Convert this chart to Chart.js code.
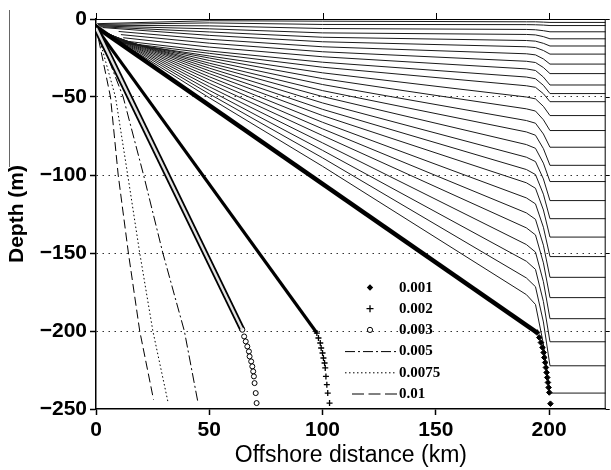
<!DOCTYPE html>
<html lang="en">
<head>
<meta charset="utf-8">
<title>Depth profiles offshore</title>
<script src="https://cdn.jsdelivr.net/npm/chart.js@4.4.1/dist/chart.umd.min.js"></script>
<style>
  html, body { margin: 0; padding: 0; background: #fff; }
  .wrap { position: relative; width: 611px; height: 470px; }
  .edge { position: absolute; left: 9px; top: 10px; width: 1px; height: 157px; background: #666; }
</style>
</head>
<body>
<div class="wrap">
  <canvas id="depthChart" width="611" height="470"></canvas>
  <div class="edge"></div>
</div>
<script>
// ---------------------------
// Values (x = offshore distance in km, y = depth in m)
// ---------------------------

const xTicks = [0, 50, 100, 150, 200];
const yTicks = [0, -50, -100, -150, -200, -250];

const seriesLabels = ["0.001", "0.002", "0.003", "0.005", "0.0075", "0.01"];

// 0.001 : straight run to the shelf break, then the single markers below it
const p001X = [0, 194.7, 195.7, 196.4, 197.1, 197.6, 197.9, 198.3, 198.6, 198.9, 199.2, 199.5, 199.8, 200.1, 200.6];
const p001Y = [-5, -201, -204.2, -207.4, -210.6, -213.8, -217.0, -220.2, -223.4, -226.6, -229.8, -233.0, -236.2, -239.4, -246.6];

// 0.002
const p002X = [0, 97.5, 98.2, 99.0, 99.4, 100.0, 100.4, 100.9, 101.2, 101.5, 101.9, 102.3, 103.1];
const p002Y = [-5.5, -201.3, -204.5, -207.7, -210.9, -214.1, -217.3, -220.5, -223.7, -229.1, -234.4, -239.8, -246.2];

// 0.003
const p003X = [0, 64.6, 65.4, 66.1, 66.8, 67.5, 67.8, 68.5, 69.0, 69.4, 69.7, 70.0, 70.5, 70.9];
const p003Y = [-5.8, -199.2, -203.5, -206.7, -209.9, -213.1, -216.3, -219.5, -222.7, -225.9, -229.1, -233.4, -239.8, -246.2];

// 0.005 / 0.0075 / 0.01 (plain lines)
const p005X = [0, 12, 21, 29.5, 39, 44.9];
const p005Y = [-5, -50, -100, -150, -200, -245];
const p0075X = [0, 8.6, 14, 19.3, 25.1, 31.7];
const p0075Y = [-5, -50, -100, -150, -200, -245];
const p01X = [0, 6.4, 9.8, 14.3, 19.3, 25.4];
const p01Y = [-5, -50, -100, -150, -200, -244];

// thin background lines: a start point, their depth at each column of fanColumnX,
// then flat at their level out to the right edge
const fanColumnX = [50, 100, 190, 194, 197.5, 200.4, 225];
const fanStartX = [0.5, 0.8, 1, 1.5, 2, 3, 10, 11, 12, 12, 11, 10, 9, 8, 7, 6, 5, 4, 3.5, 3, 2.5, 2, 1.5, 1, 0.5, 0.3];
const fanStartY = [-3, -3.5, -4, -4.5, -5, -5.5, -8, -10, -12, -14, -15, -15, -14, -13, -12, -11, -10, -9, -8.5, -8, -7.5, -7, -6.5, -6, -5.5, -5.3];
const fanAt50 = [-1.1, -2.5, -4.4, -6.3, -8.3, -10.5, -13, -15.5, -18, -20.5, -22, -23.7, -25, -26.6, -28.3, -29.8, -31.5, -33.2, -35, -37, -39, -41.2, -43.4, -45.7, -48, -50.5];
const fanAt100 = [-1.4, -3.5, -6.1, -8.9, -11.7, -14.6, -17.8, -21.0, -24.2, -27.7, -30.9, -34.5, -38.2, -42.0, -45.9, -49.7, -53.8, -57.9, -61.9, -66.2, -70.4, -74.7, -79.4, -84.2, -89.0, -94.4];
const fanAt190 = [-1.8, -3.6, -6.7, -9.9, -13.8, -17.8, -22.3, -27.1, -32.0, -37.2, -42.8, -50.0, -57.6, -65.1, -72.4, -80.5, -88.6, -96.5, -105.0, -114.7, -124.3, -133.9, -144.6, -155.3, -166.0, -176.7];
const fanAt194 = [-1.8, -3.7, -6.9, -10.2, -14.2, -18.3, -23.0, -27.9, -33.0, -38.3, -43.8, -51.2, -59.0, -66.8, -74.5, -82.9, -91.4, -99.7, -108.5, -118.5, -128.4, -138.4, -149.4, -160.5, -171.6, -183.0];
const fanAt197 = [-2.0, -3.9, -7.5, -11.3, -15.6, -20.2, -25.6, -31.1, -37.2, -42.5, -47.9, -56.0, -64.6, -73.7, -83.1, -92.4, -102.5, -112.3, -122.4, -133.5, -145.0, -156.3, -168.4, -181.1, -194.2, -208.3];
const fanLevel = [-2.2, -4.2, -8.2, -12.7, -17.3, -22.5, -28.9, -35.0, -42.3, -47.8, -53.0, -61.9, -71.5, -82.2, -93.8, -104.2, -116.4, -128.0, -139.8, -152.3, -165.6, -178.6, -192.1, -206.9, -222.3, -239.8];

// ---------------------------
// helpers
// ---------------------------
function pts(xs, ys) {
  return xs.map((x, i) => ({ x: x, y: ys[i] }));
}

// only the first leg (the straight run) is stroked, the rest are lone markers
function firstLegOnly(color) {
  return { borderColor: (c) => (c.p0DataIndex === 0 ? color : "rgba(0,0,0,0)") };
}

const fanDatasets = fanLevel.map((level, i) => ({
  label: "fan" + i,
  data: pts(
    [fanStartX[i]].concat(fanColumnX),
    [fanStartY[i], fanAt50[i], fanAt100[i], fanAt190[i], fanAt194[i], fanAt197[i], level, level]
  ),
  showLine: true,
  borderColor: "#1a1a1a",
  borderWidth: 1,
  pointRadius: 0,
  tension: 0,
  order: 10,
}));

const seriesDatasets = [
  {
    label: seriesLabels[0],
    data: pts(p001X, p001Y),
    showLine: true,
    borderWidth: 4.5,
    segment: firstLegOnly("#000"),
    pointStyle: "rectRot",
    pointRadius: 2.8,
    pointBackgroundColor: "#000",
    pointBorderColor: "#000",
    pointBorderWidth: 1,
    order: 2,
  },
  {
    label: seriesLabels[1],
    data: pts(p002X, p002Y),
    showLine: true,
    borderWidth: 3.2,
    segment: firstLegOnly("#000"),
    pointStyle: "cross",
    pointRadius: 3,
    pointBorderColor: "#000",
    pointBorderWidth: 1.3,
    order: 2,
  },
  {
    label: seriesLabels[2],
    data: pts(p003X, p003Y),
    showLine: true,
    borderWidth: 6,
    segment: firstLegOnly("#000"),
    pointStyle: "circle",
    pointRadius: 2.5,
    pointBackgroundColor: "#fff",
    pointBorderColor: "#000",
    pointBorderWidth: 1,
    order: 3,
  },
  {
    // pale core of the chain of circles
    label: seriesLabels[2] + " core",
    data: pts(p003X, p003Y),
    showLine: true,
    borderWidth: 2.4,
    segment: firstLegOnly("#e2e2e2"),
    pointRadius: 0,
    order: 1,
  },
  {
    label: seriesLabels[3],
    data: pts(p005X, p005Y),
    showLine: true,
    borderColor: "#000",
    borderWidth: 1,
    borderDash: [10, 3, 2, 3],
    pointRadius: 0,
    order: 4,
  },
  {
    label: seriesLabels[4],
    data: pts(p0075X, p0075Y),
    showLine: true,
    borderColor: "#000",
    borderWidth: 1,
    borderDash: [1.5, 2.5],
    pointRadius: 0,
    order: 4,
  },
  {
    label: seriesLabels[5],
    data: pts(p01X, p01Y),
    showLine: true,
    borderColor: "#000",
    borderWidth: 1,
    borderDash: [9, 4],
    pointRadius: 0,
    order: 4,
  },
];

// ---------------------------
// top/right edges of the box and the key inside the plot
// ---------------------------
const frameAndKey = {
  id: "frameAndKey",
  afterDraw(chart) {
    const { ctx, chartArea: a, scales } = chart;
    const x = scales.x;
    const y = scales.y;
    ctx.save();
    ctx.strokeStyle = "#000";
    ctx.lineWidth = 1;
    ctx.beginPath();
    ctx.moveTo(a.left, a.top + 0.5);
    ctx.lineTo(a.right, a.top + 0.5);
    ctx.moveTo(a.right - 0.5, a.top);
    ctx.lineTo(a.right - 0.5, a.bottom);
    xTicks.forEach((v) => {
      const px = Math.round(x.getPixelForValue(v)) + 0.5;
      ctx.moveTo(px, a.top + 0.5);
      ctx.lineTo(px, a.top - 6);
    });
    yTicks.forEach((v) => {
      const py = Math.round(y.getPixelForValue(v)) + 0.5;
      ctx.moveTo(a.right, py);
      ctx.lineTo(a.right + 4, py);
    });
    ctx.stroke();

    // key
    const lineL = a.left + 249;
    const lineR = a.left + 301;
    const mx = a.left + 274;
    const tx = a.left + 303;
    const row0 = a.top + 268.5;
    const gap = 21.2;
    ctx.fillStyle = "#000";
    ctx.font = 'bold 15px "Liberation Serif", serif';
    ctx.textBaseline = "middle";
    ctx.textAlign = "left";
    seriesLabels.forEach((lab, i) => {
      const ry = row0 + i * gap;
      ctx.setLineDash([]);
      ctx.lineWidth = 1;
      ctx.beginPath();
      if (i === 0) {
        ctx.moveTo(mx, ry - 3.2);
        ctx.lineTo(mx + 3.2, ry);
        ctx.lineTo(mx, ry + 3.2);
        ctx.lineTo(mx - 3.2, ry);
        ctx.closePath();
        ctx.fill();
      } else if (i === 1) {
        ctx.lineWidth = 1.3;
        ctx.moveTo(mx - 3.5, ry);
        ctx.lineTo(mx + 3.5, ry);
        ctx.moveTo(mx, ry - 3.5);
        ctx.lineTo(mx, ry + 3.5);
        ctx.stroke();
      } else if (i === 2) {
        ctx.arc(mx, ry, 2.6, 0, Math.PI * 2);
        ctx.stroke();
      } else {
        const dash = i === 3 ? [10, 3, 2, 3] : i === 4 ? [1.5, 2.5] : [12, 4.5];
        ctx.setLineDash(dash);
        ctx.moveTo(i === 5 ? lineL + 7 : lineL, ry + 0.5);
        ctx.lineTo(lineR, ry + 0.5);
        ctx.stroke();
      }
      ctx.setLineDash([]);
      ctx.fillText(lab, tx, ry + 0.5);
    });
    ctx.restore();
  },
};

// ---------------------------
// chart
// ---------------------------
const tickFont = { family: '"Liberation Sans", Arial, sans-serif', size: 21, weight: "bold" };

new Chart(document.getElementById("depthChart"), {
  type: "scatter",
  data: { datasets: seriesDatasets.concat(fanDatasets) },
  options: {
    responsive: false,
    animation: false,
    devicePixelRatio: 1,
    events: [],
    layout: { padding: { top: 19, right: 2, left: 0, bottom: 0 } },
    plugins: { legend: { display: false }, tooltip: { enabled: false } },
    scales: {
      x: {
        type: "linear",
        position: "bottom",
        min: 0,
        max: 225,
        afterBuildTicks: (s) => { s.ticks = xTicks.map((v) => ({ value: v })); },
        afterFit: (s) => { s.height = 61; },
        grid: { drawOnChartArea: false, drawTicks: true, tickLength: 6, tickColor: "#000", tickWidth: 1.5 },
        border: { display: true, color: "#000", width: 1.5 },
        ticks: { color: "#000", font: tickFont, padding: 3, autoSkip: false, maxRotation: 0 },
        title: {
          display: true,
          text: "Offshore distance (km)",
          color: "#000",
          font: { family: '"Liberation Sans", Arial, sans-serif', size: 23 },
          padding: { top: 0, bottom: 1 },
        },
      },
      y: {
        type: "linear",
        position: "left",
        min: -250,
        max: 0,
        afterBuildTicks: (s) => { s.ticks = yTicks.map((v) => ({ value: v })); },
        afterFit: (s) => { s.width = 96; },
        grid: {
          color: (c) => (c.tick && (c.tick.value === 0 || c.tick.value === -250) ? "rgba(0,0,0,0)" : "#333"),
          lineWidth: 1,
          drawTicks: true,
          tickLength: 6,
          tickColor: "#000",
          tickWidth: 1.5,
        },
        border: { display: true, color: "#000", width: 1.5, dash: [1.5, 4.5] },
        ticks: {
          color: "#000",
          font: tickFont,
          padding: 3,
          callback: (v) => (v === 0 ? "0" : "\u2212" + Math.abs(v)),
        },
        title: {
          display: true,
          text: "Depth (m)",
          color: "#000",
          font: { family: '"Liberation Sans", Arial, sans-serif', size: 21, weight: "bold" },
          padding: { top: 5, bottom: 0 },
        },
      },
    },
  },
  plugins: [frameAndKey],
});
</script>
</body>
</html>
